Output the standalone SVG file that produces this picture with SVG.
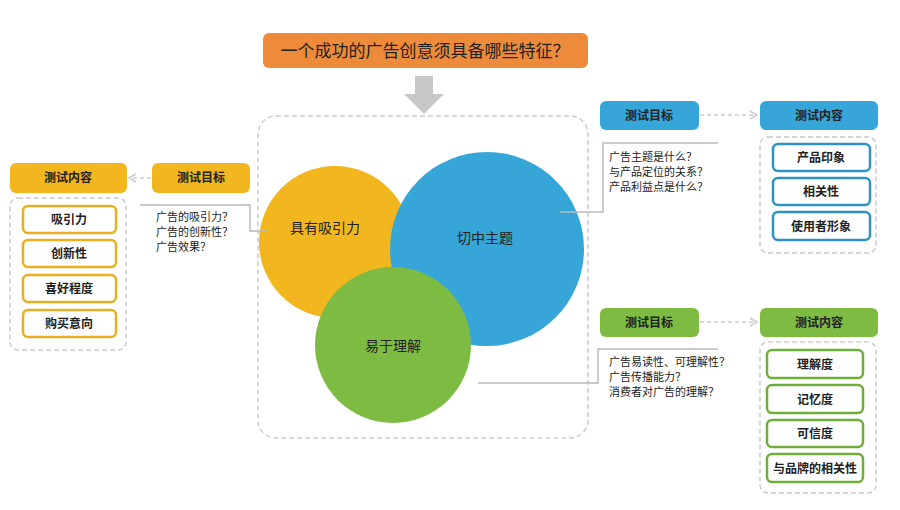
<svg xmlns="http://www.w3.org/2000/svg" width="900" height="510" viewBox="0 0 900 510">
<defs>
<style>
text{font-family:"Noto Sans CJK SC","Noto Sans",sans-serif;fill:#222}
.hd{font-size:12px;font-weight:bold;text-anchor:middle}
.it{font-size:12px;font-weight:bold;text-anchor:middle}
.q{font-size:11px}
.dash{fill:none;stroke:#ccc;stroke-width:1.5;stroke-dasharray:5 3}
.conn{fill:none;stroke:#bbb;stroke-width:1.5}
.darr{fill:none;stroke:#ccc;stroke-width:1.5;stroke-dasharray:4 3}
</style>
<marker id="ah" markerWidth="10" markerHeight="10" refX="8" refY="5" orient="auto" markerUnits="userSpaceOnUse"><path d="M1,1 L8,5 L1,9" fill="none" stroke="#ccc" stroke-width="1.5"/></marker>
</defs>
<rect width="900" height="510" fill="#fff"/>
<g id="title">
<rect x="263" y="33" width="325" height="35" rx="6" fill="#EE8B3A"/>
<text x="425" y="57" font-size="17" text-anchor="middle">一个成功的广告创意须具备哪些特征？</text>
<path d="M415,76 h18 v18 h11 l-20,20 l-20,-20 h11z" fill="#c8c8c8"/>
</g>
<g id="center">
<rect x="258" y="116" width="330" height="322" rx="18" class="dash"/>
<circle cx="335" cy="242" r="76" fill="#F2B71E"/>
<circle cx="487" cy="249" r="97" fill="#36A5D8"/>
<circle cx="393" cy="345" r="78" fill="#7DBB42"/>
<text x="325" y="233" font-size="14" text-anchor="middle">具有吸引力</text>
<text x="485" y="243" font-size="14" text-anchor="middle">切中主题</text>
<text x="393" y="351" font-size="14" text-anchor="middle">易于理解</text>
</g>
<g id="connectors">
<path class="conn" d="M140,205 H250 V231 H268"/>
<path class="conn" d="M560,212 H603 V143 H718"/>
<path class="conn" d="M478,383 H598 V349 H718"/>
<line class="darr" x1="151" y1="178" x2="129" y2="178" marker-end="url(#ah)"/>
<line class="darr" x1="700" y1="115" x2="757" y2="115" marker-end="url(#ah)"/>
<line class="darr" x1="700" y1="322" x2="757" y2="322" marker-end="url(#ah)"/>
</g>
<g id="left">
<rect x="10" y="163" width="117" height="30" rx="6" fill="#F2B71E"/>
<text class="hd" x="68" y="182">测试内容</text>
<rect x="152" y="163" width="98" height="30" rx="6" fill="#F2B71E"/>
<text class="hd" x="201" y="182">测试目标</text>
<rect x="10" y="198" width="116" height="152" rx="8" class="dash"/>
<g fill="#fff" stroke="#E8B020" stroke-width="2.5">
<rect x="23" y="206" width="93" height="27" rx="5"/>
<rect x="23" y="240" width="93" height="27" rx="5"/>
<rect x="23" y="275" width="93" height="27" rx="5"/>
<rect x="23" y="310" width="93" height="27" rx="5"/>
</g>
<text class="it" x="69" y="224">吸引力</text>
<text class="it" x="69" y="258">创新性</text>
<text class="it" x="69" y="293">喜好程度</text>
<text class="it" x="69" y="328">购买意向</text>
<text class="q" x="156" y="221">广告的吸引力？</text>
<text class="q" x="156" y="236">广告的创新性？</text>
<text class="q" x="156" y="251">广告效果？</text>
</g>
<g id="rightTop">
<rect x="600" y="101" width="99" height="29" rx="6" fill="#36A5D8"/>
<text class="hd" x="649" y="120">测试目标</text>
<rect x="760" y="101" width="118" height="29" rx="6" fill="#36A5D8"/>
<text class="hd" x="819" y="120">测试内容</text>
<rect x="760" y="137" width="116" height="116" rx="8" class="dash"/>
<g fill="#fff" stroke="#2E93C4" stroke-width="2.5">
<rect x="773" y="144" width="97" height="27" rx="5"/>
<rect x="773" y="178" width="97" height="27" rx="5"/>
<rect x="773" y="212" width="97" height="28" rx="5"/>
</g>
<text class="it" x="821" y="162">产品印象</text>
<text class="it" x="821" y="196">相关性</text>
<text class="it" x="821" y="231">使用者形象</text>
<text class="q" x="609" y="161">广告主题是什么？</text>
<text class="q" x="609" y="176">与产品定位的关系？</text>
<text class="q" x="609" y="191">产品利益点是什么？</text>
</g>
<g id="rightBottom">
<rect x="600" y="308" width="99" height="29" rx="6" fill="#7DBB42"/>
<text class="hd" x="649" y="327">测试目标</text>
<rect x="760" y="308" width="118" height="29" rx="6" fill="#7DBB42"/>
<text class="hd" x="819" y="327">测试内容</text>
<rect x="760" y="342" width="116" height="151" rx="8" class="dash"/>
<g fill="#fff" stroke="#6FAE3A" stroke-width="2.5">
<rect x="767" y="350" width="96" height="28" rx="5"/>
<rect x="767" y="385" width="96" height="28" rx="5"/>
<rect x="767" y="420" width="96" height="27" rx="5"/>
<rect x="767" y="454" width="96" height="28" rx="5"/>
</g>
<text class="it" x="815" y="369">理解度</text>
<text class="it" x="815" y="404">记忆度</text>
<text class="it" x="815" y="438">可信度</text>
<text class="it" x="815" y="473">与品牌的相关性</text>
<text class="q" x="609" y="366">广告易读性、可理解性？</text>
<text class="q" x="609" y="381">广告传播能力？</text>
<text class="q" x="609" y="396">消费者对广告的理解？</text>
</g>
</svg>
